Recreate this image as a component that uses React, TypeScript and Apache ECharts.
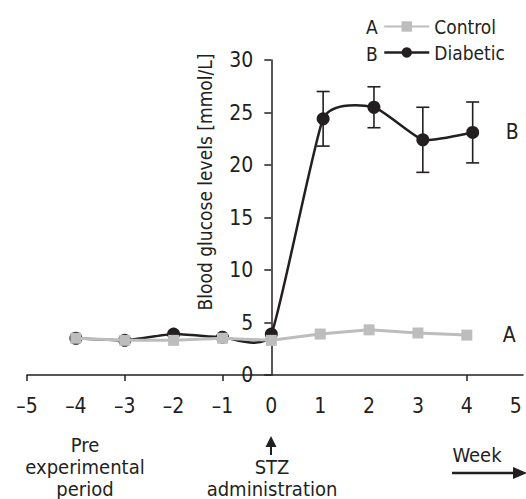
import React, { useEffect, useRef } from "react";
import * as echarts from "echarts";

const weeks = [-4, -3, -2, -1, 0, 1, 2, 3, 4];
const controlValues = [3.5, 3.3, 3.3, 3.5, 3.3, 3.9, 4.3, 4.0, 3.8];
const diabeticWeeks = [-4, -3, -2, -1, 0, 1.06, 2.1, 3.1, 4.12];
const diabeticValues = [3.5, 3.3, 3.9, 3.6, 3.9, 24.4, 25.5, 22.4, 23.1];
const diabeticSD = [0, 0, 0, 0, 0, 2.6, 1.95, 3.1, 2.9];
const xLabelValues = [-5, -4, -3, -2, -1, 0, 1, 2, 3, 4, 5];
const xTickValues = [-5, -3, -1, 4];
const yAxisTitle = "Blood glucose levels [mmol/L]";

const FONT = "'Liberation Sans Narrow', 'DejaVu Sans Condensed', 'Liberation Sans', sans-serif";
const INK = "#231f20";
const GRAY = "#bdbdbd";
const TENSION = 0.08;

export default function App() {
  const ref = useRef<HTMLDivElement>(null);
  useEffect(() => {
    document.body.style.margin = "0";
    const chart = echarts.init(ref.current!, null, { renderer: "svg" });
    const n = diabeticWeeks.length;
    const errData = diabeticWeeks
      .map((w, i) => [w, diabeticValues[i] - diabeticSD[i], diabeticValues[i] + diabeticSD[i]])
      .filter((_, i) => diabeticSD[i] > 0);
    const fmt = (v: number) => (v < 0 ? "\u2013" + Math.abs(v) : String(v));
    chart.setOption({
      animation: false,
      textStyle: { fontFamily: FONT, color: INK },
      grid: { left: 27, right: 3, top: 60, bottom: 124, containLabel: false, outerBoundsMode: "none" },
      legend: {
        data: [
          { name: "Control" },
          { name: "Diabetic", lineStyle: { color: INK, width: 2.5, opacity: 1 } },
        ],
        orient: "vertical",
        left: 383,
        top: 17,
        padding: 0,
        itemWidth: 45,
        itemHeight: 13,
        itemGap: 7,
        textStyle: { fontFamily: FONT, fontSize: 19, color: INK },
      },
      xAxis: {
        type: "value",
        min: -5,
        max: 5.15,
        interval: 1,
        splitLine: { show: false },
        axisLine: { onZero: false, lineStyle: { color: INK, width: 1.5 } },
        axisTick: { show: true, customValues: xTickValues, length: 6, lineStyle: { color: INK, width: 1.5 } },
        axisLabel: {
          customValues: xLabelValues,
          formatter: fmt,
          fontSize: 21,
          color: INK,
          fontFamily: FONT,
          margin: 20,
        },
      },
      yAxis: {
        type: "value",
        min: 0,
        max: 30,
        interval: 5,
        offset: -244.3,
        splitLine: { show: false },
        axisLine: { onZero: false, lineStyle: { color: INK, width: 1.5 } },
        axisTick: { length: 7, lineStyle: { color: INK, width: 1.5 } },
        axisLabel: { fontSize: 21, color: INK, fontFamily: FONT, margin: 18 },
      },
      series: [
        {
          name: "Diabetic curve",
          type: "custom",
          data: diabeticWeeks.map((w, i) => [w, diabeticValues[i]]),
          z: 2,
          silent: true,
          renderItem: (params: any, api: any) => {
            const i = params.dataIndex;
            if (i >= n - 1) return { type: "group", children: [] };
            const P = (j: number) => api.coord([diabeticWeeks[j], diabeticValues[j]]);
            const a = P(Math.max(i - 1, 0));
            const b = P(i);
            const c = P(i + 1);
            const d = P(Math.min(i + 2, n - 1));
            return {
              type: "bezierCurve",
              shape: {
                x1: b[0],
                y1: b[1],
                x2: c[0],
                y2: c[1],
                cpx1: b[0] + (c[0] - a[0]) * TENSION,
                cpy1: b[1] + (c[1] - a[1]) * TENSION,
                cpx2: c[0] - (d[0] - b[0]) * TENSION,
                cpy2: c[1] - (d[1] - b[1]) * TENSION,
              },
              style: { stroke: INK, lineWidth: 2.5, fill: "none" },
            };
          },
        },
        {
          name: "Diabetic",
          type: "line",
          data: diabeticWeeks.map((w, i) => [w, diabeticValues[i]]),
          symbol: "circle",
          symbolSize: 13,
          itemStyle: { color: INK },
          lineStyle: { color: INK, width: 2.5, opacity: 0 },
          z: 3,
          endLabel: { show: true, formatter: "B", fontSize: 21, color: INK, fontFamily: FONT, distance: 33 },
        },
        {
          name: "errorbars",
          type: "custom",
          data: errData,
          z: 2,
          silent: true,
          renderItem: (params: any, api: any) => {
            const x = api.value(0);
            const lo = api.coord([x, api.value(1)]);
            const hi = api.coord([x, api.value(2)]);
            const hw = 6.5;
            const st = { stroke: INK, lineWidth: 1.6 };
            return {
              type: "group",
              children: [
                { type: "line", shape: { x1: lo[0], y1: lo[1], x2: hi[0], y2: hi[1] }, style: st },
                { type: "line", shape: { x1: lo[0] - hw, y1: lo[1], x2: lo[0] + hw, y2: lo[1] }, style: st },
                { type: "line", shape: { x1: hi[0] - hw, y1: hi[1], x2: hi[0] + hw, y2: hi[1] }, style: st },
              ],
            };
          },
        },
        {
          name: "Control",
          type: "line",
          data: weeks.map((w, i) => [w, controlValues[i]]),
          symbol: "rect",
          symbolSize: 11,
          itemStyle: { color: GRAY },
          lineStyle: { color: GRAY, width: 3 },
          z: 4,
          endLabel: { show: true, formatter: "A", fontSize: 21, color: INK, fontFamily: FONT, distance: 36 },
        },
      ],
      graphic: [
        { type: "text", left: 366, top: 17, style: { text: "A", font: `19px ${FONT}`, fill: INK } },
        { type: "text", left: 366, top: 44, style: { text: "B", font: `19px ${FONT}`, fill: INK } },
        {
          type: "text",
          x: 205,
          y: 182,
          rotation: Math.PI / 2,
          style: { text: yAxisTitle, font: `19px ${FONT}`, fill: INK, align: "center", verticalAlign: "middle" },
        },
        {
          type: "text",
          x: 85,
          y: 467,
          style: {
            text: "Pre\nexperimental\nperiod",
            font: `20px ${FONT}`,
            lineHeight: 22,
            fill: INK,
            align: "center",
            verticalAlign: "middle",
          },
        },
        {
          type: "text",
          x: 272,
          y: 478,
          style: {
            text: "STZ\nadministration",
            font: `20px ${FONT}`,
            lineHeight: 22,
            fill: INK,
            align: "center",
            verticalAlign: "middle",
          },
        },
        { type: "line", shape: { x1: 271, y1: 455, x2: 271, y2: 444 }, style: { stroke: INK, lineWidth: 2 } },
        { type: "polygon", shape: { points: [[265.5, 447], [271, 436], [276.5, 447]] }, style: { fill: INK } },
        {
          type: "text",
          x: 477,
          y: 455,
          style: { text: "Week", font: `20px ${FONT}`, fill: INK, align: "center", verticalAlign: "middle" },
        },
        { type: "line", shape: { x1: 452, y1: 473, x2: 516, y2: 473 }, style: { stroke: INK, lineWidth: 2.5 } },
        { type: "polygon", shape: { points: [[513, 467], [527, 473], [513, 479]] }, style: { fill: INK } },
      ],
    });
    return () => chart.dispose();
  }, []);
  return <div ref={ref} style={{ width: 526, height: 499, position: "absolute", left: 0, top: 0 }} />;
}
